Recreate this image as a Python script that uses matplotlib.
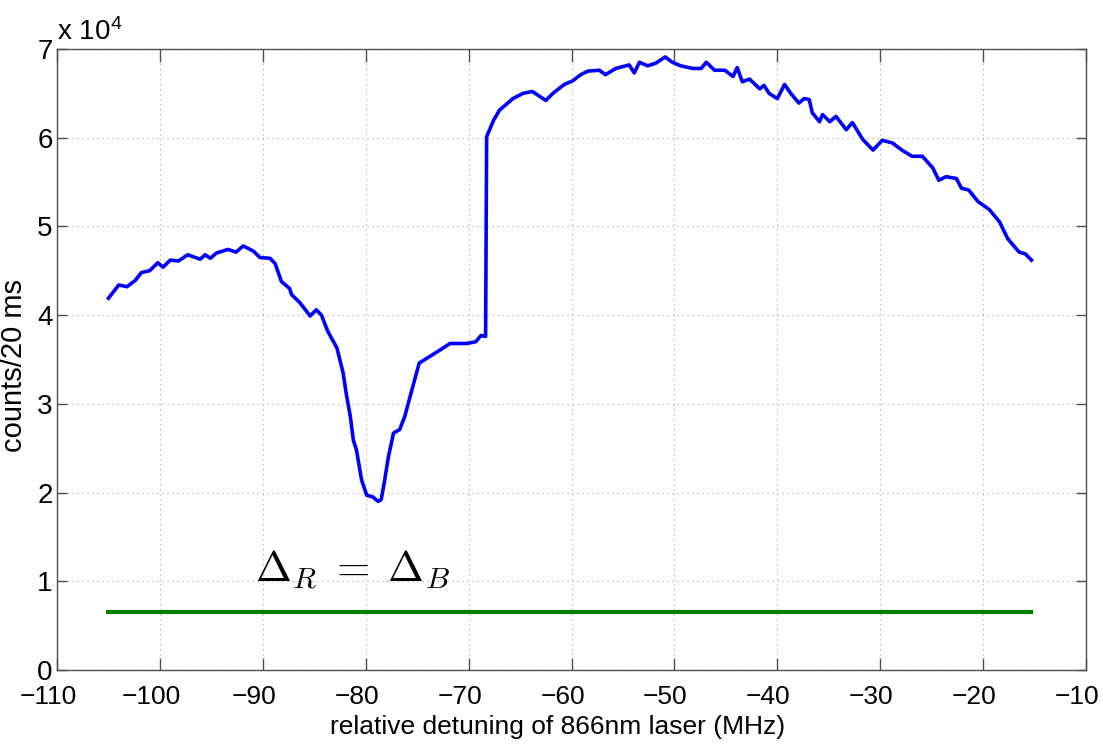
import matplotlib
matplotlib.use("Agg")
import matplotlib.pyplot as plt
import matplotlib.transforms as mtransforms
from matplotlib.ticker import FuncFormatter

plt.rcParams['font.family'] = ['Liberation Sans', 'DejaVu Sans']
plt.rcParams['mathtext.fontset'] = 'cm'

# blue curve: detuning (MHz) vs counts/20 ms
detuning = [-105.0, -104.0, -103.2, -102.4, -101.8, -101.0, -100.2, -99.7, -99.0, -98.2,
            -97.3, -96.1, -95.6, -95.1, -94.5, -93.4, -92.6, -91.9, -90.9, -90.3,
            -89.3, -88.8, -88.2, -87.4, -87.2, -86.4, -85.4, -84.8, -84.3, -83.7,
            -82.8, -82.2, -81.9, -81.5, -81.2, -80.9, -80.4, -79.9, -79.3, -78.8,
            -78.5, -78.2, -77.8, -77.3, -76.7, -76.2, -75.6, -74.8, -74.1, -73.0,
            -71.8, -70.2, -69.3, -68.8, -68.35, -68.25, -67.6, -67.0, -65.7, -64.7,
            -63.8, -62.5, -61.8, -60.7, -59.9, -59.1, -58.4, -57.3, -56.7, -55.7,
            -54.4, -53.9, -53.4, -52.6, -51.8, -50.9, -50.2, -49.4, -48.2, -47.4,
            -46.9, -46.1, -45.1, -44.3, -43.9, -43.4, -42.7, -41.7, -41.3, -40.8,
            -40.0, -39.3, -38.7, -37.9, -37.4, -36.9, -36.6, -35.9, -35.6, -34.9,
            -34.3, -33.3, -32.7, -31.7, -30.7, -29.8, -28.8, -27.9, -26.9, -25.9,
            -24.9, -24.3, -23.6, -22.6, -22.1, -21.4, -20.5, -19.4, -18.4, -17.6,
            -16.5, -15.9, -15.3]
counts = [41900, 43400, 43200, 43900, 44800, 45000, 45900, 45400, 46200, 46100,
          46800, 46300, 46800, 46400, 47000, 47400, 47100, 47800, 47200, 46500,
          46400, 45800, 43800, 43000, 42300, 41400, 39900, 40600, 40000, 38200,
          36300, 33500, 31200, 28600, 25900, 24800, 21400, 19700, 19500, 19000,
          19200, 21100, 24000, 26700, 27100, 28600, 31200, 34600, 35100, 35900,
          36800, 36800, 37000, 37700, 37600, 60100, 61900, 63100, 64400, 65000,
          65200, 64200, 65000, 66000, 66400, 67100, 67500, 67600, 67100, 67800,
          68200, 67300, 68500, 68100, 68400, 69100, 68500, 68100, 67800, 67800,
          68500, 67600, 67600, 66900, 67900, 66300, 66600, 65500, 65900, 65000,
          64400, 66000, 65000, 63900, 64400, 64300, 62800, 61800, 62600, 61800,
          62400, 60900, 61700, 59800, 58600, 59700, 59400, 58600, 57900, 57900,
          56600, 55200, 55600, 55400, 54300, 54100, 52800, 51900, 50500, 48600,
          47100, 46900, 46200]

# green reference line
green_x = [-105.0, -15.3]
green_y = [6550, 6550]

x_ticks = [-110, -100, -90, -80, -70, -60, -50, -40, -30, -20, -10]
y_ticks = [0, 10000, 20000, 30000, 40000, 50000, 60000, 70000]

fig = plt.figure(figsize=(11.03, 7.45), dpi=100)
ax = fig.add_axes([0.0517, 0.1007, 0.9329, 0.8336])

ax.plot(detuning, counts, color='#0000ff', lw=2.6, solid_joinstyle='round')
ax.plot(green_x, green_y, color='#008000', lw=3.0)

ax.set_xlim(-110, -10)
ax.set_ylim(0, 70000)
ax.set_xticks(x_ticks)
ax.set_yticks(y_ticks)
ax.yaxis.set_major_formatter(FuncFormatter(lambda v, p: f"{v/1e4:g}"))

ax.grid(True, linestyle=(0, (1, 3)), color='#b0b0b0', lw=0.9)
ax.tick_params(direction='in', width=1, color='#505050',
               top=True, right=True, labelsize=20)
ax.tick_params(axis='x', length=9, pad=11, labelsize=19)
ax.tick_params(axis='y', length=7, pad=3)
for s in ax.spines.values():
    s.set_color('#505050')
    s.set_linewidth(1.0)

# MATLAB-export look: x tick labels sit slightly left of their ticks
shift = mtransforms.ScaledTranslation(-9 / 100, 0, fig.dpi_scale_trans)
for lab in ax.get_xticklabels():
    lab.set_transform(lab.get_transform() + shift)

ax.set_xlabel('relative detuning of 866nm laser (MHz)', fontsize=19)
ax.xaxis.set_label_coords(0.486, -0.072)
ax.set_ylabel('counts/20 ms', fontsize=21)
ax.yaxis.set_label_coords(-0.028, 0.49)

ax.text(0.0, 1.005, r'x 10$^{\mathregular{4}}$', transform=ax.transAxes,
        fontsize=20, ha='left', va='bottom')

ax.text(-90.8, 9900, r'$\Delta_R\;=\;\Delta_B$', fontsize=31, ha='left', va='baseline')

fig.savefig('out.png', dpi=100)
